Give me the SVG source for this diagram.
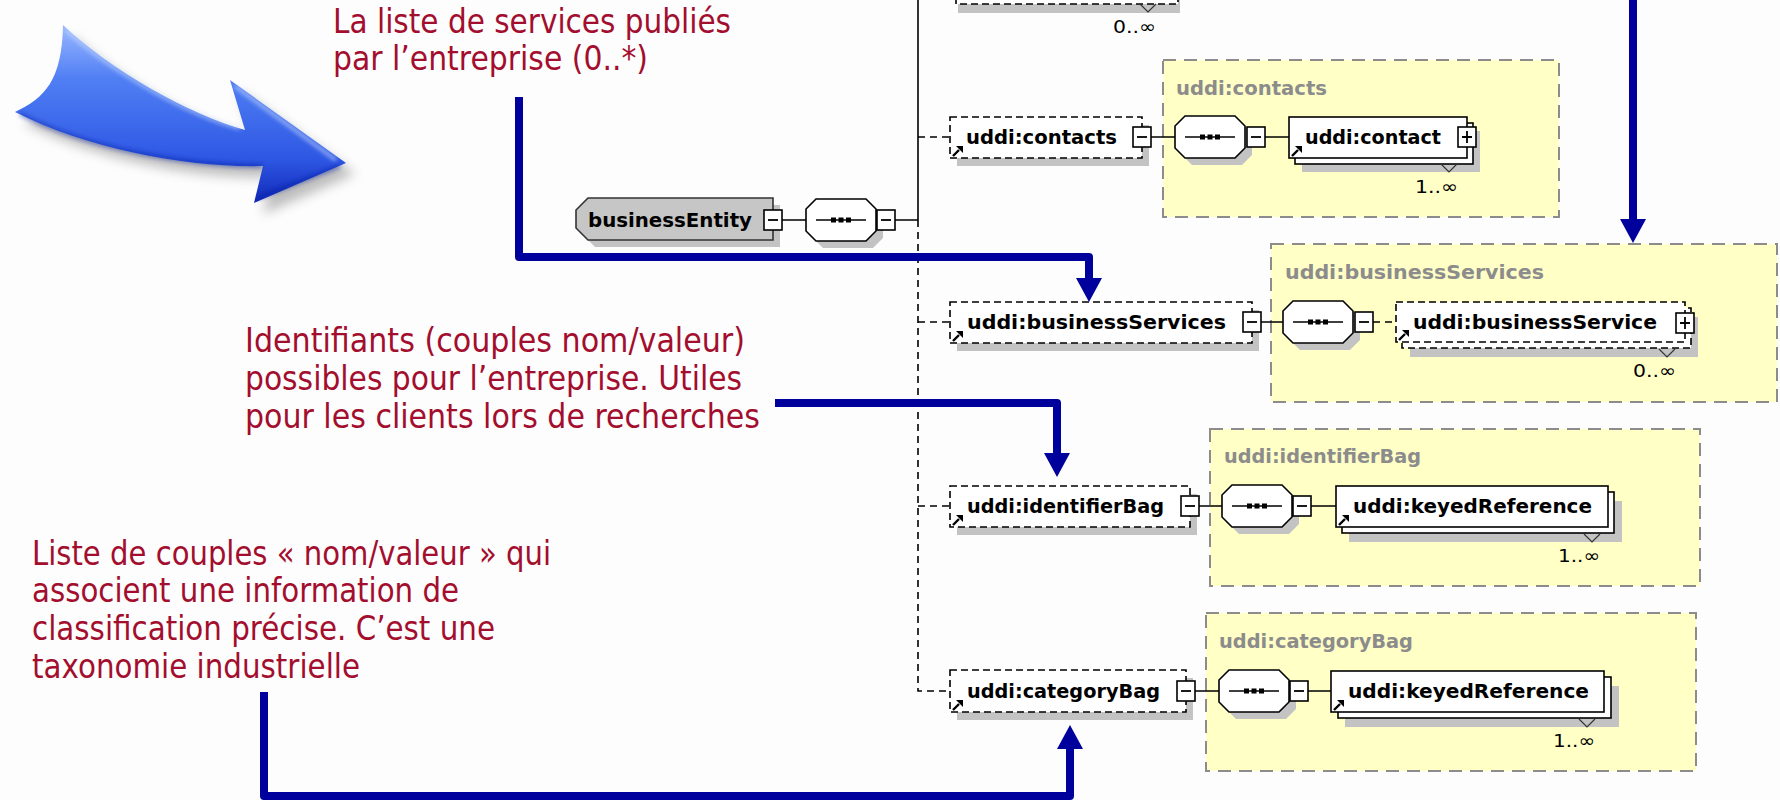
<svg xmlns="http://www.w3.org/2000/svg" width="1780" height="800" viewBox="0 0 1780 800">
<style>
.bg{fill:#fdfdfd}
.ctr{fill:#ffffc6;stroke:#8c8c8c;stroke-width:2;stroke-dasharray:13 8}
.sh{fill:#c3c3c3}
.el{fill:#fff;stroke:#000;stroke-width:1.6}
.opt{stroke-dasharray:7 4}
.w{fill:none;stroke:#000;stroke-width:1.6}
.dw{stroke-dasharray:7 5}
.lbl{font-family:"DejaVu Sans","Liberation Sans",sans-serif;font-weight:bold;font-size:19.5px;fill:#000}
.ttl{font-family:"DejaVu Sans","Liberation Sans",sans-serif;font-weight:bold;font-size:19.5px;fill:#8c8c8c}
.mul{font-family:"DejaVu Sans","Liberation Sans",sans-serif;font-size:18px;fill:#000}
.tri{fill:none;stroke:#333;stroke-width:1.2}
.note{font-family:"DejaVu Sans","Liberation Sans",sans-serif;font-size:33px;fill:#a30e2e}
.call{fill:none;stroke:#00009c;stroke-width:8;stroke-linejoin:round}
</style>
<defs>
  <marker id="head" markerUnits="userSpaceOnUse" viewBox="0 0 24 26" refX="1" refY="13" markerWidth="24" markerHeight="26" orient="auto">
    <path d="M0,0 L24,13 L0,26 Z" fill="#00009c"/>
  </marker>
  <g id="mn"><rect width="18" height="20" fill="#fff" stroke="#000" stroke-width="1.6"/><path d="M4,10H14" stroke="#000" stroke-width="1.8"/></g>
  <g id="pl"><rect width="18" height="20" fill="#fff" stroke="#000" stroke-width="1.6"/><path d="M4,10H14M9,4V16" stroke="#000" stroke-width="1.8"/></g>
  <path id="seqs" d="M10,0H60L70,10V32L60,42H10L0,32V10Z" fill="#c3c3c3"/>
  <g id="seq">
    <path d="M10,0H60L70,10V32L60,42H10L0,32V10Z" fill="#fff" stroke="#000" stroke-width="1.6"/>
    <path d="M10,21H60" stroke="#000" stroke-width="1.6"/>
    <rect x="25" y="18.5" width="5" height="5"/><rect x="32.5" y="18.5" width="5" height="5"/><rect x="40" y="18.5" width="5" height="5"/>
  </g>
  <g id="lnk"><path d="M1,11L7,5" stroke="#000" stroke-width="2.4"/><path d="M4,1H11V8Z" fill="#000"/></g>
  <path id="arrowShape" d="M63,25 C110,70 190,115 245,130 L230,80 L346,163 L254,203 L263,166 C190,168 90,150 15,112 C45,98 62,80 63,25 Z"/>
  <linearGradient id="blueBody" x1="0" y1="0" x2="0" y2="1">
    <stop offset="0" stop-color="#9ab8ff"/>
    <stop offset="0.3" stop-color="#507ff4"/>
    <stop offset="0.75" stop-color="#2e58e4"/>
    <stop offset="1" stop-color="#1129b8"/>
  </linearGradient>
  <filter id="soft" x="-20%" y="-20%" width="140%" height="140%"><feGaussianBlur stdDeviation="6"/></filter>
  <filter id="glow" x="-20%" y="-20%" width="140%" height="140%"><feGaussianBlur stdDeviation="2"/></filter>
</defs>

<rect class="bg" width="1780" height="800"/>

<!-- decorative 3D arrow -->
<g id="bigArrow">
  <use href="#arrowShape" fill="#444" opacity="0.35" filter="url(#soft)" transform="translate(9,11)"/>
  <use href="#arrowShape" fill="url(#blueBody)"/>
  <path d="M66,30 C112,72 190,116 240,128 M235,86 L336,160" fill="none" stroke="#d8e6ff" stroke-width="3" opacity="0.7" filter="url(#glow)"/>
  <path d="M20,114 C90,150 190,166 262,166 M258,198 L340,166" fill="none" stroke="#0a1ea0" stroke-width="3" opacity="0.6" filter="url(#glow)"/>
</g>

<!-- type containers -->
<g id="contacts-type">
  <rect class="ctr" x="1163" y="60" width="396" height="157"/>
  <text class="ttl" x="1176" y="95" textLength="151" lengthAdjust="spacingAndGlyphs">uddi:contacts</text>
</g>
<g id="businessServices-type">
  <rect class="ctr" x="1271" y="244" width="506" height="158"/>
  <text class="ttl" x="1285" y="279" textLength="259" lengthAdjust="spacingAndGlyphs">uddi:businessServices</text>
</g>
<g id="identifierBag-type">
  <rect class="ctr" x="1210" y="429" width="490" height="157"/>
  <text class="ttl" x="1224" y="463" textLength="197" lengthAdjust="spacingAndGlyphs">uddi:identifierBag</text>
</g>
<g id="categoryBag-type">
  <rect class="ctr" x="1206" y="613" width="490" height="158"/>
  <text class="ttl" x="1219" y="648" textLength="194" lengthAdjust="spacingAndGlyphs">uddi:categoryBag</text>
</g>

<!-- schema wiring -->
<g id="connectors">
  <path class="w" d="M782,220H806M895,220H918M918,0V220"/>
  <path class="w dw" d="M918,220V691H950M918,137H950M918,322H950M918,506H950"/>
  <path class="w" d="M1151,137H1175M1245,137H1247M1265,137H1289"/>
  <path class="w" d="M1261,322H1283M1353,322H1355"/>
  <path class="w dw" d="M1373,322H1396"/>
  <path class="w" d="M1199,506H1222M1292,506H1293M1311,506H1336"/>
  <path class="w" d="M1195,691H1219M1308,691H1331"/>
</g>

<!-- partially visible element above -->
<g id="description">
  <rect class="sh" x="958" y="-30" width="222" height="43"/>
  <rect class="el opt" x="956" y="-36" width="222" height="40"/>
  <rect class="el opt" x="950" y="-42" width="222" height="40"/>
  <path class="tri" d="M1140,4L1148,12L1156,4"/>
  <text class="mul" x="1113" y="33" textLength="43" lengthAdjust="spacingAndGlyphs">0..∞</text>
</g>

<g id="businessEntity">
  <path class="sh" d="M595,205H780V247H595L583,235V217Z"/>
  <path d="M588,198H773V240H588L576,228V210Z" fill="#c6c6c6" stroke="#333" stroke-width="1.6"/>
  <text class="lbl" x="588" y="227" textLength="164" lengthAdjust="spacingAndGlyphs">businessEntity</text>
  <use href="#mn" x="764" y="210"/>
</g>
<g id="businessEntity-seq">
  <use href="#seqs" x="813" y="206"/>
  <use href="#seq" x="806" y="199"/>
  <use href="#mn" x="877" y="210"/>
</g>

<g id="contacts">
  <rect class="sh" x="957" y="125" width="192" height="41"/>
  <rect class="el opt" x="950" y="117" width="192" height="41"/>
  <use href="#lnk" x="952" y="145"/>
  <text class="lbl" x="966" y="144" textLength="151" lengthAdjust="spacingAndGlyphs">uddi:contacts</text>
  <use href="#mn" x="1133" y="127"/>
</g>
<g id="contacts-seq">
  <use href="#seqs" x="1182" y="123"/>
  <use href="#seq" x="1175" y="116"/>
  <use href="#mn" x="1247" y="127"/>
</g>
<g id="contact">
  <rect class="sh" x="1302" y="131" width="178" height="41"/>
  <rect class="el" x="1295" y="123" width="178" height="41"/>
  <rect class="el" x="1289" y="117" width="178" height="41"/>
  <use href="#lnk" x="1291" y="145"/>
  <text class="lbl" x="1305" y="144" textLength="136" lengthAdjust="spacingAndGlyphs">uddi:contact</text>
  <use href="#pl" x="1458" y="127"/>
  <path class="tri" d="M1441,164L1449,172L1457,164"/>
  <text class="mul" x="1415" y="193" textLength="43" lengthAdjust="spacingAndGlyphs">1..∞</text>
</g>

<g id="businessServices">
  <rect class="sh" x="957" y="310" width="302" height="41"/>
  <rect class="el opt" x="950" y="302" width="302" height="41"/>
  <use href="#lnk" x="952" y="330"/>
  <text class="lbl" x="967" y="329" textLength="259" lengthAdjust="spacingAndGlyphs">uddi:businessServices</text>
  <use href="#mn" x="1243" y="312"/>
</g>
<g id="businessServices-seq">
  <use href="#seqs" x="1290" y="308"/>
  <use href="#seq" x="1283" y="301"/>
  <use href="#mn" x="1355" y="312"/>
</g>
<g id="businessService">
  <rect class="sh" x="1410" y="317" width="288" height="40"/>
  <rect class="el opt" x="1402" y="308" width="289" height="40"/>
  <rect class="el opt" x="1396" y="302" width="289" height="40"/>
  <use href="#lnk" x="1398" y="329"/>
  <text class="lbl" x="1413" y="329" textLength="244" lengthAdjust="spacingAndGlyphs">uddi:businessService</text>
  <use href="#pl" x="1676" y="313"/>
  <path class="tri" d="M1659,349L1667,357L1675,349"/>
  <text class="mul" x="1633" y="377" textLength="43" lengthAdjust="spacingAndGlyphs">0..∞</text>
</g>

<g id="identifierBag">
  <rect class="sh" x="957" y="494" width="240" height="41"/>
  <rect class="el opt" x="950" y="486" width="240" height="41"/>
  <use href="#lnk" x="952" y="514"/>
  <text class="lbl" x="967" y="513" textLength="197" lengthAdjust="spacingAndGlyphs">uddi:identifierBag</text>
  <use href="#mn" x="1181" y="496"/>
</g>
<g id="identifierBag-seq">
  <use href="#seqs" x="1229" y="492"/>
  <use href="#seq" x="1222" y="485"/>
  <use href="#mn" x="1293" y="496"/>
</g>
<g id="identifierBag-keyedReference">
  <rect class="sh" x="1349" y="501" width="273" height="41"/>
  <rect class="el" x="1342" y="492" width="272" height="41"/>
  <rect class="el" x="1336" y="486" width="272" height="41"/>
  <use href="#lnk" x="1338" y="514"/>
  <text class="lbl" x="1353" y="513" textLength="239" lengthAdjust="spacingAndGlyphs">uddi:keyedReference</text>
  <path class="tri" d="M1584,534L1592,542L1600,534"/>
  <text class="mul" x="1558" y="562" textLength="42" lengthAdjust="spacingAndGlyphs">1..∞</text>
</g>

<g id="categoryBag">
  <rect class="sh" x="957" y="678" width="236" height="42"/>
  <rect class="el opt" x="950" y="670" width="236" height="42"/>
  <use href="#lnk" x="952" y="699"/>
  <text class="lbl" x="967" y="698" textLength="193" lengthAdjust="spacingAndGlyphs">uddi:categoryBag</text>
  <use href="#mn" x="1177" y="681"/>
</g>
<g id="categoryBag-seq">
  <use href="#seqs" x="1226" y="677"/>
  <use href="#seq" x="1219" y="670"/>
  <use href="#mn" x="1290" y="681"/>
</g>
<g id="categoryBag-keyedReference">
  <rect class="sh" x="1345" y="686" width="274" height="41"/>
  <rect class="el" x="1338" y="677" width="273" height="41"/>
  <rect class="el" x="1331" y="671" width="273" height="41"/>
  <use href="#lnk" x="1333" y="699"/>
  <text class="lbl" x="1348" y="698" textLength="241" lengthAdjust="spacingAndGlyphs">uddi:keyedReference</text>
  <path class="tri" d="M1579,719L1587,727L1595,719"/>
  <text class="mul" x="1553" y="747" textLength="42" lengthAdjust="spacingAndGlyphs">1..∞</text>
</g>

<!-- annotation callouts -->
<g id="callouts">
  <path class="call" d="M1633,0V220" marker-end="url(#head)"/>
  <path class="call" d="M519,97V257H1089V279" marker-end="url(#head)"/>
  <path class="call" d="M775,403H1057V454" marker-end="url(#head)"/>
  <path class="call" d="M264,692V796H1070V748" marker-end="url(#head)"/>
</g>

<g id="note-services">
  <text class="note" x="333" y="33" textLength="398" lengthAdjust="spacingAndGlyphs">La liste de services publiés</text>
  <text class="note" x="333" y="70" textLength="315" lengthAdjust="spacingAndGlyphs">par l’entreprise (0..*)</text>
</g>
<g id="note-identifiers">
  <text class="note" x="245" y="352" textLength="500" lengthAdjust="spacingAndGlyphs">Identifiants (couples nom/valeur)</text>
  <text class="note" x="245" y="390" textLength="497" lengthAdjust="spacingAndGlyphs">possibles pour l’entreprise. Utiles</text>
  <text class="note" x="245" y="428" textLength="515" lengthAdjust="spacingAndGlyphs">pour les clients lors de recherches</text>
</g>
<g id="note-categories">
  <text class="note" x="32" y="565" textLength="519" lengthAdjust="spacingAndGlyphs">Liste de couples « nom/valeur » qui</text>
  <text class="note" x="32" y="602" textLength="427" lengthAdjust="spacingAndGlyphs">associent une information de</text>
  <text class="note" x="32" y="640" textLength="463" lengthAdjust="spacingAndGlyphs">classification précise. C’est une</text>
  <text class="note" x="32" y="678" textLength="328" lengthAdjust="spacingAndGlyphs">taxonomie industrielle</text>
</g>
</svg>
